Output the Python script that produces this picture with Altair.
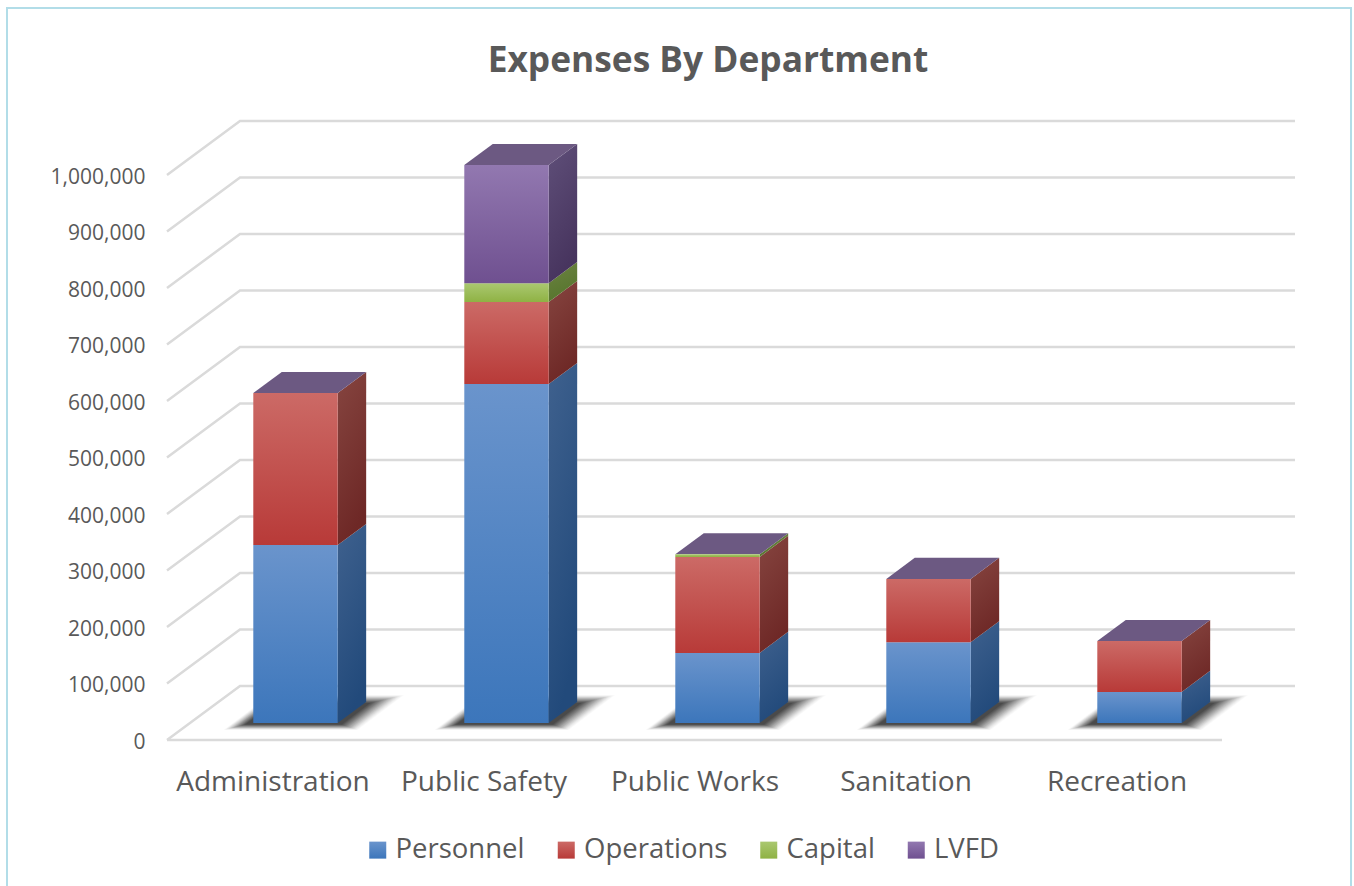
import altair as alt
import pandas as pd

# Budget figures per department
departments = ["Administration", "Public Safety", "Public Works", "Sanitation", "Recreation"]
series_names = ["Personnel", "Operations", "Capital", "LVFD"]
personnel = [315000, 600000, 124000, 143000, 55000]
operations = [269000, 145000, 170000, 112000, 90000]
capital = [0, 33500, 4500, 0, 0]
lvfd = [0, 209000, 0, 0, 0]
value_ticks = [0, 100000, 200000, 300000, 400000, 500000, 600000, 700000, 800000, 900000, 1000000]

# Face shading: (top, bottom) of every vertical gradient
front_shades = [("#6a94cc", "#3c76bb"), ("#cc6a66", "#b83a38"), ("#aac870", "#8fb244"), ("#9278b0", "#6f5090")]
side_shades = [("#3f618e", "#224a7b"), ("#864540", "#6e2826"), ("#6d8342", "#56752d"), ("#5f4f79", "#47345e")]
top_colour = "#6c5982"
grid_colour = "#dadada"
text_colour = "#595959"
frame_colour = "#b2dde8"

# Oblique projection: one unit of depth moves a point right (in category slots) and up (in value units)
SLOT_PX = 211.0
VALUE_PX = 56.5 / 100000
DEPTH_X = 73 / SLOT_PX
DEPTH_Y = 54 / VALUE_PX
BAR_NEAR, BAR_FAR = 0.315, 0.705
BAR_LEFT, BAR_RIGHT = 0.3, 0.7
SHADOW_LEVELS = 20


def gradient_expr(pair, x2=0):
    return {
        "expr": "{gradient:'linear',x1:0,y1:0,x2:%s,y2:1,stops:[{offset:0,color:'%s'},{offset:1,color:'%s'}]}"
        % (x2, pair[0], pair[1])
    }


table = dict(zip(series_names, [personnel, operations, capital, lvfd]))
front_rows, side_rows, top_rows, shadow_rows = [], [], [], []
for i, dept in enumerate(departments):
    base = 0
    for name in series_names:
        val = table[name][i]
        if val > 0:
            front_rows.append({
                "dept": dept, "series": name,
                "x": i + BAR_LEFT + BAR_NEAR * DEPTH_X, "x2": i + BAR_RIGHT + BAR_NEAR * DEPTH_X,
                "y": base + BAR_NEAR * DEPTH_Y, "y2": base + val + BAR_NEAR * DEPTH_Y,
            })
            for depth in (BAR_NEAR, BAR_FAR):
                side_rows.append({
                    "dept": dept, "series": name,
                    "x": i + BAR_RIGHT + depth * DEPTH_X,
                    "y": base + depth * DEPTH_Y, "y2": base + val + depth * DEPTH_Y,
                })
        base += val
    for depth in (BAR_NEAR, BAR_FAR):
        top_rows.append({
            "dept": dept, "y": base + depth * DEPTH_Y,
            "x": i + BAR_LEFT + depth * DEPTH_X, "x2": i + BAR_RIGHT + depth * DEPTH_X,
        })
    # Soft contact shadow: nested parallelograms, fainter towards the outside
    near_y0 = BAR_NEAR * DEPTH_Y
    left0 = i + BAR_LEFT + BAR_NEAR * DEPTH_X
    right0 = i + BAR_RIGHT + BAR_NEAR * DEPTH_X
    for level in range(SHADOW_LEVELS):
        t = level / (SHADOW_LEVELS - 1)
        below_px = 7 - 5.5 * t
        above_px = 28 - 8 * t
        grow_left = (30 - 22 * t) / SLOT_PX
        grow_right = (20 - 16 * t) / SLOT_PX
        skew = (above_px + below_px) * 1.33 / SLOT_PX
        key = f"{dept}{level}"
        alpha = 0.018 + 0.075 * t
        shadow_rows.append({"id": key, "a": alpha, "y": near_y0 - below_px / VALUE_PX,
                            "x": left0 - grow_left, "x2": right0 + grow_right})
        shadow_rows.append({"id": key, "a": alpha, "y": near_y0 + above_px / VALUE_PX,
                            "x": left0 - grow_left + skew, "x2": right0 + grow_right + skew})

grid_rows = []
for tick in value_ticks:
    grid_rows.append({"id": str(tick), "n": 0, "x": 0, "y": tick})
    grid_rows.append({"id": str(tick), "n": 1, "x": DEPTH_X, "y": tick + DEPTH_Y})
    grid_rows.append({"id": str(tick), "n": 2, "x": len(departments) + DEPTH_X, "y": tick + DEPTH_Y})
grid_rows.append({"id": "floor", "n": 0, "x": 0, "y": 0})
grid_rows.append({"id": "floor", "n": 1, "x": len(departments), "y": 0})

x_scale = alt.Scale(domain=[0, len(departments) + DEPTH_X], nice=False, zero=False)
y_scale = alt.Scale(domain=[0, 1000000 + DEPTH_Y], nice=False, zero=False)
slot_labels = "[" + ",".join(f"'{d}'" for d in departments) + "]"

x_axis = alt.Axis(
    values=[i + 0.5 for i in range(len(departments))],
    labelExpr=f"{slot_labels}[datum.value - 0.5]",
    title=None, domain=False, ticks=False, grid=False, labelPadding=28, labelLimit=300,
    labelFont="Open Sans", labelFontSize=28, labelColor=text_colour, labelOverlap=False, labelFlush=False,
)
y_axis = alt.Axis(
    values=value_ticks, labelExpr="format(datum.value, ',')",
    title=None, domain=False, ticks=False, grid=False, labelPadding=22, labelOffset=2,
    labelFont="Open Sans", labelFontSize=21, labelColor=text_colour, labelOverlap=False, labelFlush=False,
)
X = alt.X("x:Q", scale=x_scale, axis=x_axis)
Y = alt.Y("y:Q", scale=y_scale, axis=y_axis, stack=None)

frame = alt.Chart(pd.DataFrame({"a": [0]})).mark_rect(
    fillOpacity=0, stroke=frame_colour, strokeWidth=2
).encode(x=alt.value(-160), x2=alt.value(1184), y=alt.value(-113), y2=alt.value(790))

grid = alt.Chart(pd.DataFrame(grid_rows)).mark_line(color=grid_colour, strokeWidth=2.5).encode(
    x=X, y=Y, detail="id:N", order="n:Q",
)

shadow = alt.Chart(pd.DataFrame(shadow_rows)).mark_area(orient="horizontal", color="black").encode(
    y=Y, x=X, x2="x2:Q", detail="id:N",
    opacity=alt.Opacity("a:Q", scale=None, legend=None),
)

side = alt.Chart(pd.DataFrame(side_rows)).mark_area().encode(
    x=X, y=Y, y2="y2:Q",
    fill=alt.Fill(
        "series:N",
        scale=alt.Scale(domain=series_names, range=[gradient_expr(p, 0.3) for p in side_shades]),
        legend=None,
    ),
    detail="dept:N",
)

top = alt.Chart(pd.DataFrame(top_rows)).mark_area(orient="horizontal", color=top_colour).encode(
    y=Y, x=X, x2="x2:Q", detail="dept:N",
)

front = alt.Chart(pd.DataFrame(front_rows)).mark_rect().encode(
    x=X, x2="x2:Q", y=Y, y2="y2:Q",
    fill=alt.Fill(
        "series:N",
        scale=alt.Scale(domain=series_names, range=[gradient_expr(p) for p in front_shades]),
        legend=alt.Legend(
            title=None, orient="none", legendX=197, legendY=715, direction="horizontal", columns=4,
            symbolType="square", symbolSize=289, symbolStrokeWidth=0, labelFont="Open Sans", labelFontSize=27.5,
            labelColor=text_colour, labelOffset=4, columnPadding=27.5, labelLimit=300,
        ),
    ),
)

chart = (
    alt.layer(frame, grid, shadow, side, top, front)
    .resolve_scale(fill="independent")
    .properties(
        width=1128,
        height=619,
        padding={"left": 167, "top": 121, "right": 59, "bottom": 146},
        autosize=alt.AutoSizeParams(type="none"),
        background="white",
        title=alt.TitleParams(
            "Expenses By Department", anchor="middle", dx=-23, offset=-72,
            font="Open Sans", fontSize=35.3, fontWeight="bold", color=text_colour,
        ),
    )
    .configure_view(stroke=None)
)

chart.save("out.html", embed_options={"renderer": "svg", "actions": False})
